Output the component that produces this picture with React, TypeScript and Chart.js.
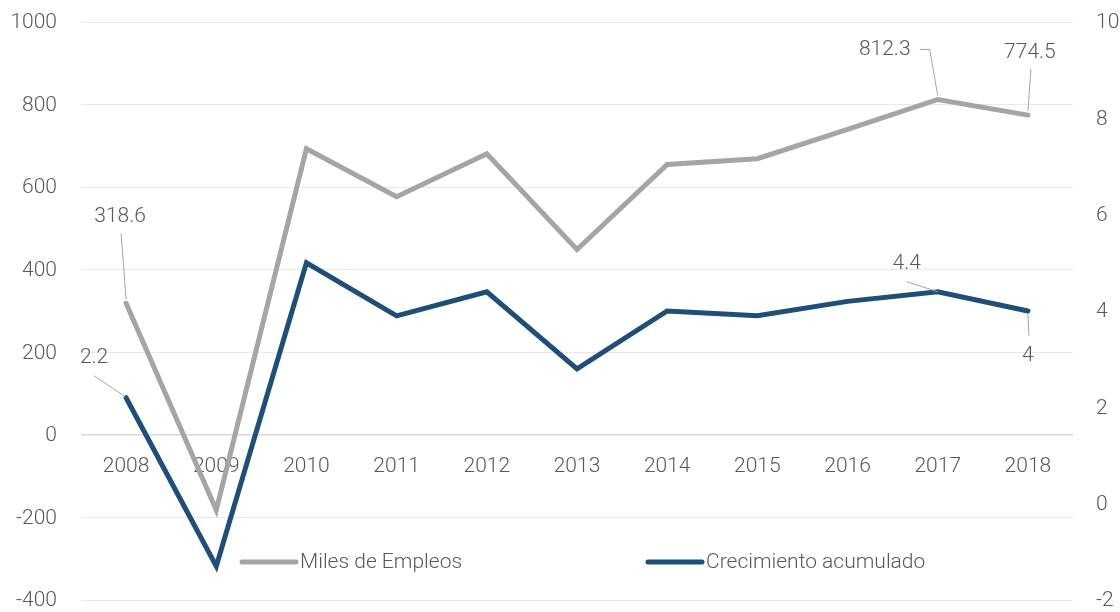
import React, { useEffect, useRef } from "react";
import { Chart, registerables } from "chart.js";

Chart.register(...registerables);

const years = ["2008", "2009", "2010", "2011", "2012", "2013", "2014", "2015", "2016", "2017", "2018"];
const milesEmpleos = [318.6, -182, 693, 577, 681, 449, 655, 669, 740, 812.3, 774.5];
const crecimiento = [2.2, -1.3, 5.0, 3.9, 4.4, 2.8, 4.0, 3.9, 4.2, 4.4, 4.0];
const leftTicks = { min: -400, max: 1000, step: 200 };
const rightTicks = { min: -2, max: 10, step: 2 };

const GRAY = "#a5a5a5";
const BLUE = "#1f4e79";
const TEXT = "#595959";
const FONT = "Roboto";
const FONT_CSS = `300 21px ${FONT}`;

// labelled points: dataset index, point index, label offset, leader path (relative to point)
const callouts = [
  { ds: 1, i: 0, text: "318.6", dx: -6, dy: -87, path: [[-5, -70], [0, -4]] },
  { ds: 1, i: 9, text: "812.3", dx: -53, dy: -50, path: [[-18, -50], [-8, -50], [0, -4]] },
  { ds: 1, i: 10, text: "774.5", dx: 2, dy: -62, path: [[3, -46], [0, -4]] },
  { ds: 0, i: 0, text: "2.2", dx: -32, dy: -40, path: [[-32, -22], [-1, -1]] },
  { ds: 0, i: 9, text: "4.4", dx: -31, dy: -28, path: [[-31, -10], [0, 0]] },
  { ds: 0, i: 10, text: "4", dx: 0, dy: 45, path: [[0, 2], [1, 25]] },
];

const customPlugin = {
  id: "custom",
  beforeDatasetsDraw(chart: any) {
    const { ctx, chartArea } = chart;
    const x = chart.scales.x;
    const y = chart.scales.y;
    const y1 = chart.scales.y1;
    const y0 = y.getPixelForValue(0);
    ctx.save();
    ctx.font = FONT_CSS;
    ctx.fillStyle = TEXT;
    ctx.textBaseline = "middle";
    ctx.textAlign = "center";
    years.forEach((lab, i) => {
      ctx.fillText(lab, x.getPixelForValue(i), y0 + 32);
    });
    ctx.textAlign = "right";
    for (let v = leftTicks.min; v <= leftTicks.max; v += leftTicks.step) {
      ctx.fillText(String(v), chartArea.left - 24, y.getPixelForValue(v) + 1);
    }
    ctx.textAlign = "left";
    for (let v = rightTicks.min; v <= rightTicks.max; v += rightTicks.step) {
      ctx.fillText(String(v), chartArea.right + 23, y1.getPixelForValue(v) + 1);
    }
    ctx.restore();
  },
  afterDatasetsDraw(chart: any) {
    const { ctx } = chart;
    ctx.save();
    ctx.font = FONT_CSS;
    ctx.fillStyle = TEXT;
    ctx.textAlign = "center";
    ctx.textBaseline = "middle";
    callouts.forEach((c) => {
      const meta = chart.getDatasetMeta(c.ds);
      const pt = meta.data[c.i];
      const px = pt.x;
      const py = pt.y;
      ctx.strokeStyle = "#a6a6a6";
      ctx.lineWidth = 1;
      ctx.beginPath();
      c.path.forEach((p, k) => {
        if (k === 0) ctx.moveTo(px + p[0], py + p[1]);
        else ctx.lineTo(px + p[0], py + p[1]);
      });
      ctx.stroke();
      ctx.fillText(c.text, px + c.dx, py + c.dy);
    });
    ctx.restore();
  },
  afterDraw(chart: any) {
    const { ctx } = chart;
    const items = [
      { label: "Miles de Empleos", color: GRAY, x: 242 },
      { label: "Crecimiento acumulado", color: BLUE, x: 648 },
    ];
    const ly = 562;
    ctx.save();
    ctx.font = FONT_CSS;
    ctx.fillStyle = TEXT;
    ctx.textAlign = "left";
    ctx.textBaseline = "middle";
    items.forEach((it) => {
      ctx.strokeStyle = it.color;
      ctx.lineWidth = 5;
      ctx.lineCap = "round";
      ctx.beginPath();
      ctx.moveTo(it.x, ly);
      ctx.lineTo(it.x + 54, ly);
      ctx.stroke();
      ctx.fillText(it.label, it.x + 58, ly + 1);
    });
    ctx.restore();
  },
};

export default function App() {
  const ref = useRef<HTMLCanvasElement>(null);
  useEffect(() => {
    document.body.style.margin = "0";
    const chart = new Chart(ref.current!, {
      type: "line",
      data: {
        labels: years,
        datasets: [
          {
            label: "Crecimiento acumulado",
            data: crecimiento,
            yAxisID: "y1",
            borderColor: BLUE,
            backgroundColor: BLUE,
            borderWidth: 5,
            pointRadius: 0,
            tension: 0,
            borderCapStyle: "round",
            order: 0,
          },
          {
            label: "Miles de Empleos",
            data: milesEmpleos,
            yAxisID: "y",
            borderColor: GRAY,
            backgroundColor: GRAY,
            borderWidth: 5,
            pointRadius: 0,
            tension: 0,
            borderCapStyle: "round",
            order: 1,
          },
        ],
      },
      options: {
        animation: false,
        responsive: false,
        maintainAspectRatio: false,
        layout: { padding: { top: 22, bottom: 12, left: 0, right: 0 } },
        plugins: { legend: { display: false }, tooltip: { enabled: false } },
        scales: {
          x: { display: false, offset: true },
          y: {
            position: "left",
            min: leftTicks.min,
            max: leftTicks.max,
            afterFit: (s: any) => { s.width = 81; },
            ticks: { stepSize: leftTicks.step, display: false },
            grid: {
              drawTicks: false,
              color: (c: any) => (c.tick && c.tick.value === 0 ? "#d9d9d9" : "#e9e9e9"),
              lineWidth: (c: any) => (c.tick && c.tick.value === 0 ? 1.5 : 1),
            },
            border: { display: false },
          },
          y1: {
            position: "right",
            min: rightTicks.min,
            max: rightTicks.max,
            afterFit: (s: any) => { s.width = 47; },
            ticks: { stepSize: rightTicks.step, display: false },
            grid: { display: false, drawTicks: false },
            border: { display: false },
          },
        },
      },
      plugins: [customPlugin],
    } as any);
    return () => chart.destroy();
  }, []);
  return <canvas ref={ref} width={1120} height={612} style={{ display: "block", width: 1120, height: 612 }} />;
}
